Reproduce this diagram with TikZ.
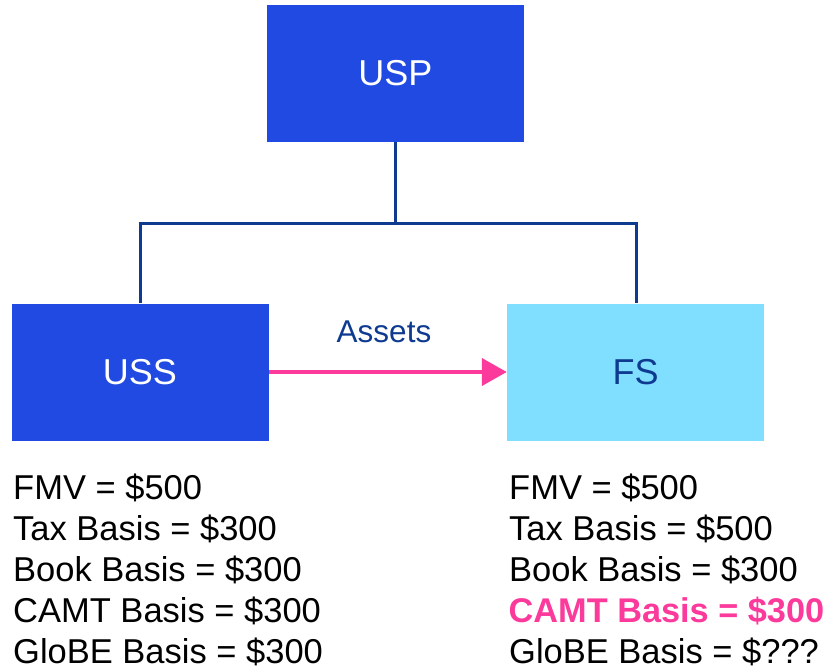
\documentclass[tikz,border=0pt]{standalone}
\usepackage{fontspec}
\setmainfont{Liberation Sans}
\usetikzlibrary{arrows.meta}
\definecolor{boxblue}{HTML}{214AE2}
\definecolor{lightblue}{HTML}{80DEFF}
\definecolor{darkblue}{HTML}{0E3A90}
\definecolor{hotpink}{HTML}{FB3A9B}
\tikzset{
  entity/.style={minimum width=257pt, minimum height=137pt, inner sep=0pt, font=\fontsize{36}{40}\selectfont},
  conn/.style={draw=darkblue, line width=3pt},
  info/.style={anchor=base west, inner sep=0pt, font=\fontsize{34.5}{40}\selectfont},
}
\begin{document}
\begin{tikzpicture}[x=1pt,y=-1pt]
\useasboundingbox (0,0) rectangle (828,670);
\node[entity, fill=boxblue, text=white] (usp) at (395.5,73.5) {USP};
\node[entity, fill=boxblue, text=white] (uss) at (140,372) {USS};
\node[entity, fill=lightblue, text=darkblue] (fs) at (635.5,372) {FS};
\coordinate (j) at (395.5,223);
\coordinate (jl) at (140,223);
\coordinate (jr) at (636,223);
\draw[conn] (usp.south) -- (j);
\draw[conn, line cap=rect] (jl) -- (jr);
\draw[conn] (jl) -- (jl |- uss.north);
\draw[conn] (jr) -- (jr |- fs.north);
\draw[draw=hotpink, line width=4pt, -{Triangle[length=25pt,width=27pt]}] (uss.east) -- (fs.west);
\node[anchor=base, inner sep=0pt, text=darkblue, font=\fontsize{31.5}{36}\selectfont] (assets) at (384,342) {Assets};
\node[info] (l1) at (13,499) {FMV = \$500};
\node[info] (l2) at (13,540) {Tax Basis = \$300};
\node[info] (l3) at (13,581) {Book Basis = \$300};
\node[info] (l4) at (13,622) {CAMT Basis = \$300};
\node[info] (l5) at (13,663) {GloBE Basis = \$300};
\node[info] (r1) at (509,499) {FMV = \$500};
\node[info] (r2) at (509,540) {Tax Basis = \$500};
\node[info] (r3) at (509,581) {Book Basis = \$300};
\node[info, text=hotpink, font=\fontsize{34.3}{40}\selectfont\bfseries] (r4) at (508.5,622) {CAMT Basis = \$300};
\node[info] (r5) at (509,663) {GloBE Basis = \$???};
\end{tikzpicture}
\end{document}
